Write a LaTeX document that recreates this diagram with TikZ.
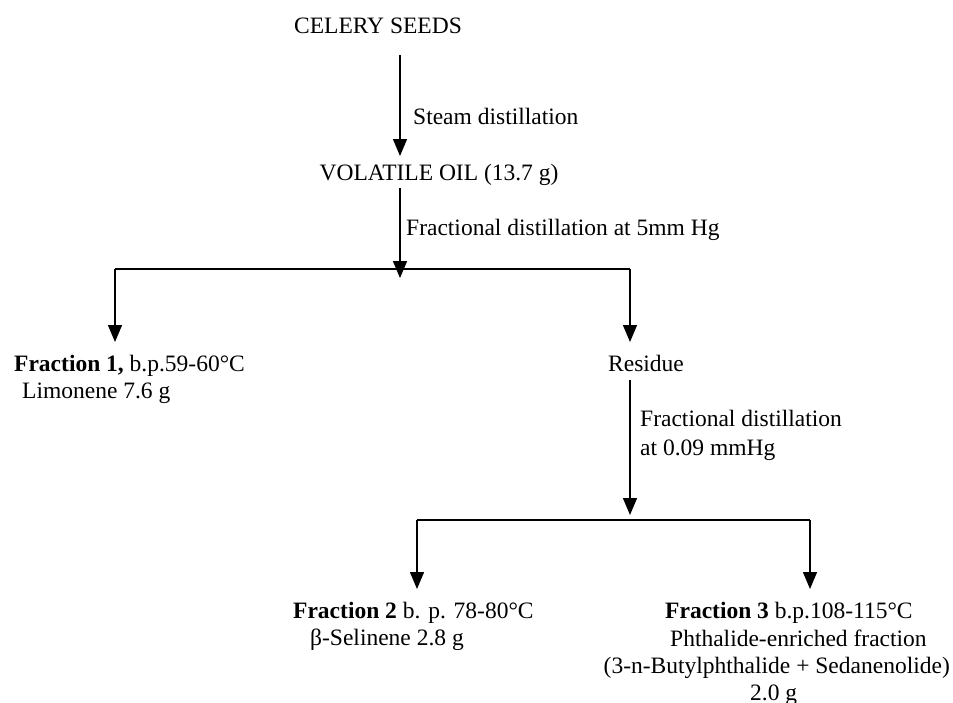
\documentclass[tikz,border=0pt]{standalone}
\usepackage{fontspec}
\setmainfont{Liberation Serif}
\usetikzlibrary{arrows.meta}
\begin{document}
\begin{tikzpicture}[x=1pt,y=-1pt,
  lbl/.style={inner sep=0pt, font=\fontsize{23.5}{27}\selectfont},
  arr/.style={-{Triangle[length=17pt,width=14pt]}, line width=1.4pt},
  ln/.style={line width=1.4pt}]
\useasboundingbox[fill=white] (0,0) rectangle (953,702);
% texts
\node[lbl,anchor=base] (celery) at (378,33) {CELERY SEEDS};
\node[lbl,anchor=base west] (steam) at (413,124) {Steam distillation};
\node[lbl,anchor=base] (oil) at (439,180) {VOLATILE OIL (13.7 g)};
\node[lbl,anchor=base west] (fd1) at (406,235) {Fractional distillation at 5mm Hg};
\node[lbl,anchor=base west] (f1) at (14,371) {\textbf{Fraction 1,} b.p.59-60°C};
\node[lbl,anchor=base west] (lim) at (22,398) {Limonene 7.6 g};
\node[lbl,anchor=base west] (res) at (608,371) {Residue};
\node[lbl,anchor=base west] (fd2a) at (640,426) {Fractional distillation};
\node[lbl,anchor=base west] (fd2b) at (640,455) {at 0.09 mmHg};
\node[lbl,anchor=base west] (f2) at (293,618) {\textbf{Fraction 2} b. p. 78-80°C};
\node[lbl,anchor=base west] (sel) at (310,645) {β-Selinene 2.8 g};
\node[lbl,anchor=base west] (f3) at (665,618) {\textbf{Fraction 3} b.p.108-115°C};
\node[lbl,anchor=base west] (ph) at (670,646) {Phthalide-enriched fraction};
\node[lbl,anchor=base east] (bu) at (950,673) {(3-n-Butylphthalide + Sedanenolide)};
\node[lbl,anchor=base west] (gr) at (750,700) {2.0 g};
% connector points
\coordinate (a1s) at (400,55);
\coordinate (a1e) at (400,156);
\coordinate (a2s) at (400,188);
\coordinate (a2e) at (400,278);
\coordinate (h1l) at (115,269);
\coordinate (h1r) at (630,269);
\coordinate (d1l) at (115,342);
\coordinate (d1r) at (630,342);
\coordinate (a3s) at (630,380);
\coordinate (a3e) at (630,515);
\coordinate (h2l) at (417,520);
\coordinate (h2r) at (810,520);
\coordinate (d2l) at (417,589);
\coordinate (d2r) at (810,589);
% connectors
\draw[arr] (a1s) -- (a1e);
\draw[arr] (a2s) -- (a2e);
\draw[ln] (h1l) -- (h1r);
\draw[arr] (h1l) -- (d1l);
\draw[arr] (h1r) -- (d1r);
\draw[arr] (a3s) -- (a3e);
\draw[ln] (h2l) -- (h2r);
\draw[arr] (h2l) -- (d2l);
\draw[arr] (h2r) -- (d2r);
\end{tikzpicture}
\end{document}
